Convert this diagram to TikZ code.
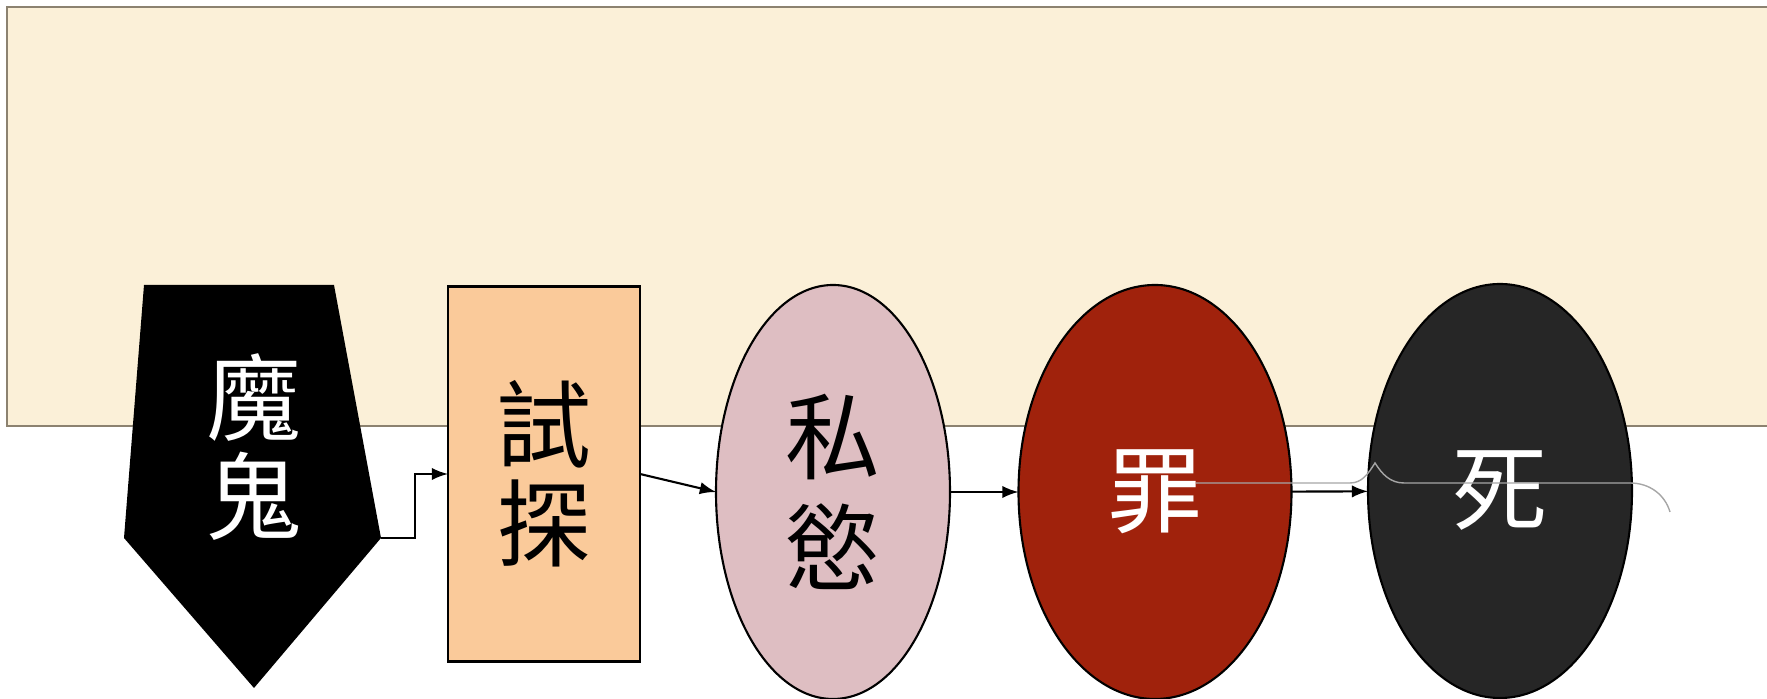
\documentclass[tikz,border=0pt]{standalone}
\usepackage{fontspec}
\usepackage{xcolor}
\usepackage{tikz}
\usetikzlibrary{shapes.geometric,positioning}
\newfontfamily\cjk{Noto Sans CJK TC}
\definecolor{parchment}{RGB}{251,240,216}
\definecolor{parchmentline}{RGB}{140,130,112}
\definecolor{peach}{RGB}{250,202,154}
\definecolor{mauve}{RGB}{222,190,194}
\definecolor{blood}{RGB}{160,34,12}
\definecolor{ash}{RGB}{38,38,38}

\begin{document}
\begin{tikzpicture}[>=latex, x=0.1mm, y=-0.1mm,
    word/.style={font=\cjk\fontsize{27}{28.2}\selectfont, align=center},
    stage/.style={draw=black, line width=0.6pt, ellipse, inner sep=0pt, outer sep=0pt, minimum height=41.4mm},
    link/.style={->, black, line width=0.6pt}]
    \useasboundingbox (0,0) rectangle (1767,699);

    % Background panel
    \fill[parchment] (7,7) rectangle (1767,426);
    \draw[parchmentline, line width=0.8pt] (1767,7) -- (7,7) -- (7,426) -- (1767,426);

    % Devil
    \fill[black] (144,285) -- (334,285) -- (381,538) -- (254,688) -- (124,538) -- cycle;
    \coordinate (Devil-e) at (381,538);
    \node[word, white, inner sep=0pt] (Devil) at (254,447) {魔\\鬼};

    % Temptation
    \node[word, draw, line width=0.6pt, fill=peach, minimum width=19.2mm, minimum height=37.5mm, inner sep=0pt, outer sep=0pt] (Test) at (544,474) {試\\探};

    % Lust, sin, death
    \node[stage, word, fill=mauve, minimum width=23.4mm] (Lust) at (833,492) {私\\[1.2mm]慾};
    \node[stage, word, fill=blood, text=white, minimum width=27.3mm] (Sin) at (1155,492) {罪};
    \node[stage, word, fill=ash, text=white, minimum width=26.4mm] (Death) at (1500,491) {死};

    % Connectors
    \draw[link] (Devil-e) -- ++(34,0) |- (Test.west);
    \draw[link] (Test.east) -- (Lust.west);
    \draw[link] (Lust) -- (Sin);
    \draw[link] (Sin) -- (Death);

    % Brace line over death
    \draw[gray!70, line width=0.4pt] (1196,483) -- (1350,483)
        .. controls (1362,483) and (1368,474) .. (1375,463)
        .. controls (1382,474) and (1390,483) .. (1404,483) -- (1630,483)
        .. controls (1650,483) and (1665,495) .. (1670,512);

\end{tikzpicture}
\end{document}
